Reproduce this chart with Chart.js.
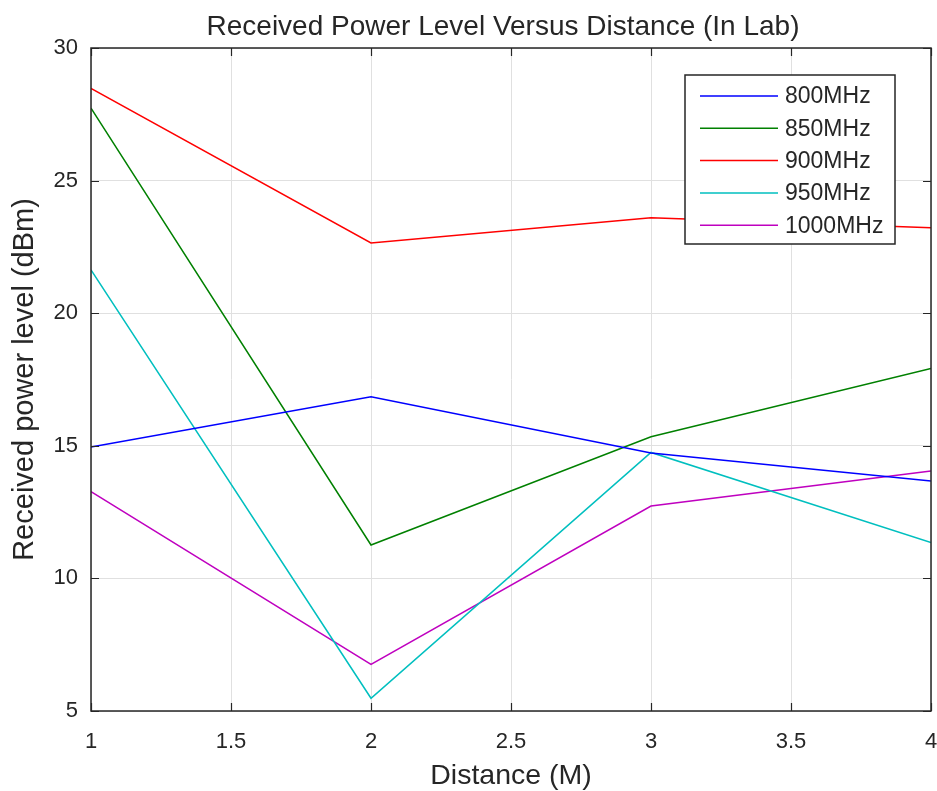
<!DOCTYPE html>
<html>
<head>
<meta charset="utf-8">
<script src="https://cdn.jsdelivr.net/npm/chart.js@4"></script>
<style>
  html, body { margin: 0; padding: 0; background: #ffffff; }
  #wrap { width: 937px; height: 791px; }
</style>
</head>
<body>
<div id="wrap"><canvas id="powerChart" width="937" height="791"></canvas></div>
<script>
// Measured received power (dBm) at each distance (M)
const distances = [1, 2, 3, 4];
const power800 = [14.95, 16.85, 14.73, 13.67];
const power850 = [27.73, 11.26, 15.34, 17.92];
const power900 = [28.48, 22.65, 23.60, 23.22];
const power950 = [21.63, 5.48, 14.75, 11.35];
const power1000 = [13.27, 6.76, 12.73, 14.05];
const bandNames = ["800MHz", "850MHz", "900MHz", "950MHz", "1000MHz"];
const xTicks = [1, 1.5, 2, 2.5, 3, 3.5, 4];
const yTicks = [5, 10, 15, 20, 25, 30];
const chartTitle = "Received Power Level Versus Distance (In Lab)";

const bandColors = ["#0000ff", "#008000", "#ff0000", "#00bfbf", "#bf00bf"];
const FONT = '"Liberation Sans", Arial, Helvetica, sans-serif';
const INK = "#262626";

const allSeries = [power800, power850, power900, power950, power1000];
const datasets = allSeries.map((vals, i) => ({
    label: bandNames[i],
    data: distances.map((d, j) => ({ x: d, y: vals[j] })),
    borderColor: bandColors[i],
    backgroundColor: bandColors[i],
    borderWidth: 1.5,
    pointRadius: 0,
    tension: 0,
    fill: false
}));

// Box around the axes with inward tick marks on every side,
// plus the title centred over the plot area
const boxPlugin = {
    id: "axesBox",
    afterDatasetsDraw(chart) {
        const { ctx, chartArea: a, scales } = chart;
        const len = 8;
        ctx.save();
        ctx.strokeStyle = INK;
        ctx.lineWidth = 1.5;
        ctx.strokeRect(a.left, a.top, a.right - a.left, a.bottom - a.top);
        ctx.lineWidth = 1.2;
        ctx.beginPath();
        xTicks.forEach(v => {
            const px = Math.round(scales.x.getPixelForValue(v)) + 0.5;
            ctx.moveTo(px, a.bottom); ctx.lineTo(px, a.bottom - len);
            ctx.moveTo(px, a.top); ctx.lineTo(px, a.top + len);
        });
        yTicks.forEach(v => {
            const py = Math.round(scales.y.getPixelForValue(v)) + 0.5;
            ctx.moveTo(a.left, py); ctx.lineTo(a.left + len, py);
            ctx.moveTo(a.right, py); ctx.lineTo(a.right - len, py);
        });
        ctx.stroke();

        ctx.fillStyle = INK;
        ctx.font = "28px " + FONT;
        ctx.textAlign = "center";
        ctx.textBaseline = "middle";
        ctx.fillText(chartTitle, (a.left + a.right) / 2 - 8, a.top - 21);
        ctx.restore();
    }
};

// Legend drawn inside the plot, top right
const boxLegend = {
    id: "boxLegend",
    afterDraw(chart) {
        const { ctx } = chart;
        const x0 = 685, y0 = 75, w = 210, h = 169;
        ctx.save();
        ctx.fillStyle = "#ffffff";
        ctx.fillRect(x0, y0, w, h);
        ctx.strokeStyle = INK;
        ctx.lineWidth = 1.5;
        ctx.strokeRect(x0, y0, w, h);
        ctx.font = "23px " + FONT;
        ctx.textBaseline = "middle";
        ctx.textAlign = "left";
        chart.data.datasets.forEach((ds, i) => {
            const y = y0 + 21 + i * 32.3;
            ctx.strokeStyle = ds.borderColor;
            ctx.lineWidth = 1.5;
            ctx.beginPath();
            ctx.moveTo(x0 + 15, y);
            ctx.lineTo(x0 + 93, y);
            ctx.stroke();
            ctx.fillStyle = INK;
            ctx.fillText(ds.label, x0 + 100, y + 1);
        });
        ctx.restore();
    }
};

const chart = new Chart(document.getElementById("powerChart"), {
    type: "line",
    data: { datasets },
    plugins: [boxPlugin, boxLegend],
    options: {
        responsive: false,
        animation: false,
        layout: { padding: { top: 48, right: 6, bottom: 0, left: 0 } },
        plugins: {
            legend: { display: false },
            tooltip: { enabled: false },
            title: { display: false }
        },
        scales: {
            x: {
                type: "linear",
                min: 1,
                max: 4,
                afterBuildTicks: s => { s.ticks = xTicks.map(v => ({ value: v })); },
                afterFit: s => { s.height = 80; s.paddingLeft = 0; s.paddingRight = 0; },
                grid: { color: "#e0e0e0", lineWidth: 1, drawTicks: false },
                border: { display: false },
                ticks: {
                    color: INK,
                    padding: 18,
                    maxRotation: 0,
                    font: { family: FONT, size: 22 },
                    callback: v => String(v)
                },
                title: {
                    display: true,
                    text: "Distance (M)",
                    color: INK,
                    font: { family: FONT, size: 28.5, lineHeight: 1.05 },
                    padding: { top: 0, bottom: 0 }
                }
            },
            y: {
                min: 5,
                max: 30,
                afterBuildTicks: s => { s.ticks = yTicks.map(v => ({ value: v })); },
                afterFit: s => { s.width = 91; s.paddingTop = 0; s.paddingBottom = 0; },
                grid: { color: "#e0e0e0", lineWidth: 1, drawTicks: false },
                border: { display: false },
                ticks: { color: INK, padding: 13, font: { family: FONT, size: 22 } },
                title: {
                    display: true,
                    text: "Received power level (dBm)",
                    color: INK,
                    font: { family: FONT, size: 29, lineHeight: 1.2 },
                    padding: { top: 8, bottom: 0 }
                }
            }
        }
    }
});
</script>
</body>
</html>
